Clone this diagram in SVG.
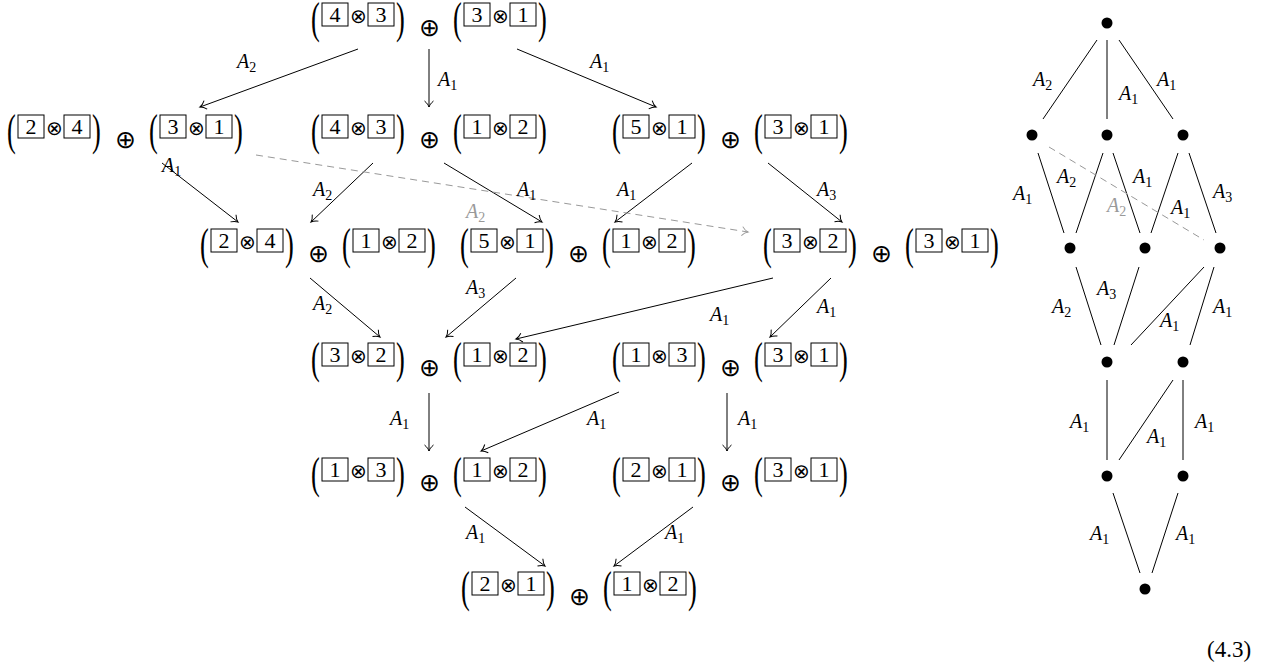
<svg xmlns="http://www.w3.org/2000/svg" width="1274" height="666" viewBox="0 0 1274 666">
<style>
.box{fill:none;stroke:#000;stroke-width:1}
.dg{font-family:"Liberation Serif","DejaVu Serif","Times New Roman",serif;font-size:22px;text-anchor:middle;fill:#000}
.par{font-family:"Liberation Serif","DejaVu Serif","Times New Roman",serif;font-size:33px;text-anchor:middle;fill:#000}
.ot{font-family:"DejaVu Sans",sans-serif;font-weight:200;font-size:20px;text-anchor:middle;fill:#000}
.op{font-family:"DejaVu Sans",sans-serif;font-weight:200;font-size:25px;text-anchor:middle;fill:#000}
.lab{font-family:"Liberation Serif","DejaVu Serif","Times New Roman",serif;font-style:italic;font-size:20px;fill:#000}
.sub{font-style:normal;font-size:14px}
.gl{fill:#999}
.ar{stroke:#000;stroke-width:1;fill:none;marker-end:url(#ah)}
.da{stroke:#999;stroke-width:1;fill:none;stroke-dasharray:7 5;marker-end:url(#ahg)}
.ln{stroke:#000;stroke-width:1;fill:none}
.dl{stroke:#999;stroke-width:1;fill:none;stroke-dasharray:7 5}
.dot{fill:#000}
.eq{font-family:"Liberation Serif","DejaVu Serif","Times New Roman",serif;font-size:23px;fill:#000}
</style>
<defs>
<marker id="ah" markerUnits="userSpaceOnUse" markerWidth="14" markerHeight="14" refX="0" refY="0" orient="auto" viewBox="-8 -7 14 14" overflow="visible">
<path d="M-6,-4.5 C-4,-2 -1.5,-0.5 0,0 C-1.5,0.5 -4,2 -6,4.5" fill="none" stroke="#000" stroke-width="1"/>
</marker>
<marker id="ahg" markerUnits="userSpaceOnUse" markerWidth="14" markerHeight="14" refX="0" refY="0" orient="auto" viewBox="-8 -7 14 14" overflow="visible">
<path d="M-6,-4.5 C-4,-2 -1.5,-0.5 0,0 C-1.5,0.5 -4,2 -6,4.5" fill="none" stroke="#999" stroke-width="1"/>
</marker>
</defs>

<g id="connectors">
<line class="ar" x1="358" y1="49" x2="200" y2="107"/>
<line class="ar" x1="429" y1="49" x2="429" y2="107"/>
<line class="ar" x1="517" y1="49" x2="656" y2="107"/>
<line class="ar" x1="162" y1="163" x2="238" y2="222"/>
<line class="ar" x1="373" y1="163" x2="311" y2="222"/>
<line class="ar" x1="444" y1="163" x2="542" y2="222"/>
<line class="ar" x1="692" y1="163" x2="615" y2="222"/>
<line class="ar" x1="768" y1="163" x2="842" y2="222"/>
<line class="da" x1="256" y1="155" x2="748" y2="232"/>
<line class="ar" x1="310" y1="278" x2="380" y2="337"/>
<line class="ar" x1="516" y1="278" x2="446" y2="337"/>
<line class="ar" x1="773" y1="278" x2="516" y2="339"/>
<line class="ar" x1="831" y1="278" x2="770" y2="337"/>
<line class="ar" x1="429" y1="393" x2="429" y2="451"/>
<line class="ar" x1="619" y1="392" x2="481" y2="451"/>
<line class="ar" x1="727" y1="393" x2="727" y2="451"/>
<line class="ar" x1="465" y1="507" x2="545" y2="566"/>
<line class="ar" x1="693" y1="507" x2="614" y2="566"/>

<text class="lab" x="237" y="68">A<tspan class="sub" dy="4">2</tspan></text>
<text class="lab" x="438" y="86">A<tspan class="sub" dy="4">1</tspan></text>
<text class="lab" x="590" y="68">A<tspan class="sub" dy="4">1</tspan></text>
<text class="lab" x="162" y="172">A<tspan class="sub" dy="4">1</tspan></text>
<text class="lab" x="313" y="196">A<tspan class="sub" dy="4">2</tspan></text>
<text class="lab" x="517" y="196">A<tspan class="sub" dy="4">1</tspan></text>
<text class="lab" x="617" y="196">A<tspan class="sub" dy="4">1</tspan></text>
<text class="lab" x="817" y="196">A<tspan class="sub" dy="4">3</tspan></text>
<text class="lab gl" x="466" y="218">A<tspan class="sub" dy="4">2</tspan></text>
<text class="lab" x="313" y="310">A<tspan class="sub" dy="4">2</tspan></text>
<text class="lab" x="466" y="294">A<tspan class="sub" dy="4">3</tspan></text>
<text class="lab" x="710" y="321">A<tspan class="sub" dy="4">1</tspan></text>
<text class="lab" x="817" y="313">A<tspan class="sub" dy="4">1</tspan></text>
<text class="lab" x="390" y="425">A<tspan class="sub" dy="4">1</tspan></text>
<text class="lab" x="587" y="425">A<tspan class="sub" dy="4">1</tspan></text>
<text class="lab" x="738" y="425">A<tspan class="sub" dy="4">1</tspan></text>
<text class="lab" x="466" y="539">A<tspan class="sub" dy="4">1</tspan></text>
<text class="lab" x="665" y="539">A<tspan class="sub" dy="4">1</tspan></text>

<line class="ln" x1="1097" y1="40" x2="1043" y2="119"/>
<line class="ln" x1="1107" y1="40" x2="1107" y2="119"/>
<line class="ln" x1="1119" y1="40" x2="1173" y2="119"/>
<line class="ln" x1="1038" y1="153" x2="1064" y2="233"/>
<line class="ln" x1="1103" y1="153" x2="1076" y2="233"/>
<line class="ln" x1="1113" y1="153" x2="1140" y2="233"/>
<line class="ln" x1="1178" y1="153" x2="1151" y2="233"/>
<line class="ln" x1="1189" y1="153" x2="1216" y2="233"/>
<line class="dl" x1="1049" y1="147" x2="1204" y2="240"/>
<line class="ln" x1="1076" y1="267" x2="1101" y2="345"/>
<line class="ln" x1="1139" y1="267" x2="1114" y2="345"/>
<line class="ln" x1="1204" y1="267" x2="1131" y2="345"/>
<line class="ln" x1="1214" y1="267" x2="1190" y2="345"/>
<line class="ln" x1="1107" y1="380" x2="1107" y2="460"/>
<line class="ln" x1="1173" y1="380" x2="1119" y2="460"/>
<line class="ln" x1="1183" y1="380" x2="1183" y2="460"/>
<line class="ln" x1="1113" y1="493" x2="1140" y2="573"/>
<line class="ln" x1="1178" y1="493" x2="1152" y2="573"/>

<text class="lab" x="1033" y="86">A<tspan class="sub" dy="4">2</tspan></text>
<text class="lab" x="1119" y="100">A<tspan class="sub" dy="4">1</tspan></text>
<text class="lab" x="1157" y="86">A<tspan class="sub" dy="4">1</tspan></text>
<text class="lab" x="1013" y="200">A<tspan class="sub" dy="4">1</tspan></text>
<text class="lab" x="1057" y="183">A<tspan class="sub" dy="4">2</tspan></text>
<text class="lab" x="1133" y="183">A<tspan class="sub" dy="4">1</tspan></text>
<text class="lab gl" x="1107" y="212">A<tspan class="sub" dy="4">2</tspan></text>
<text class="lab" x="1171" y="214">A<tspan class="sub" dy="4">1</tspan></text>
<text class="lab" x="1213" y="198">A<tspan class="sub" dy="4">3</tspan></text>
<text class="lab" x="1097" y="295">A<tspan class="sub" dy="4">3</tspan></text>
<text class="lab" x="1052" y="313">A<tspan class="sub" dy="4">2</tspan></text>
<text class="lab" x="1160" y="327">A<tspan class="sub" dy="4">1</tspan></text>
<text class="lab" x="1213" y="313">A<tspan class="sub" dy="4">1</tspan></text>
<text class="lab" x="1070" y="428">A<tspan class="sub" dy="4">1</tspan></text>
<text class="lab" x="1147" y="443">A<tspan class="sub" dy="4">1</tspan></text>
<text class="lab" x="1195" y="428">A<tspan class="sub" dy="4">1</tspan></text>
<text class="lab" x="1090" y="540">A<tspan class="sub" dy="4">1</tspan></text>
<text class="lab" x="1176" y="540">A<tspan class="sub" dy="4">1</tspan></text>
</g>

<g id="hasse">
<circle id="h0" class="dot" cx="1107" cy="23" r="5.5"/>
<circle id="h1" class="dot" cx="1032" cy="135" r="5.5"/>
<circle id="h2" class="dot" cx="1107" cy="135" r="5.5"/>
<circle id="h3" class="dot" cx="1183" cy="135" r="5.5"/>
<circle id="h4" class="dot" cx="1070" cy="248" r="5.5"/>
<circle id="h5" class="dot" cx="1145" cy="248" r="5.5"/>
<circle id="h6" class="dot" cx="1220" cy="248" r="5.5"/>
<circle id="h7" class="dot" cx="1107" cy="362" r="5.5"/>
<circle id="h8" class="dot" cx="1183" cy="362" r="5.5"/>
<circle id="h9" class="dot" cx="1107" cy="476" r="5.5"/>
<circle id="h10" class="dot" cx="1183" cy="476" r="5.5"/>
<circle id="h11" class="dot" cx="1145" cy="589" r="5.5"/>
</g>

<g id="n1" transform="translate(429,22)">
<text class="par" transform="translate(-113.5,0) scale(0.8,1.35)" y="8.2">(</text><rect class="box" x="-107" y="-19" width="26" height="23"/><text class="dg" x="-94" y="0">4</text><text class="ot" x="-71" y="1">⊗</text><rect class="box" x="-61" y="-19" width="26" height="23"/><text class="dg" x="-48" y="0">3</text><text class="par" transform="translate(-28.5,0) scale(0.8,1.35)" y="8.2">)</text>
<text class="op" x="0" y="14">⊕</text>
<text class="par" transform="translate(28.5,0) scale(0.8,1.35)" y="8.2">(</text><rect class="box" x="35" y="-19" width="26" height="23"/><text class="dg" x="48" y="0">3</text><text class="ot" x="71" y="1">⊗</text><rect class="box" x="81" y="-19" width="26" height="23"/><text class="dg" x="94" y="0">1</text><text class="par" transform="translate(113.5,0) scale(0.8,1.35)" y="8.2">)</text>
</g>

<g id="n2a" transform="translate(125,134)">
<text class="par" transform="translate(-113.5,0) scale(0.8,1.35)" y="8.2">(</text><rect class="box" x="-107" y="-19" width="26" height="23"/><text class="dg" x="-94" y="0">2</text><text class="ot" x="-71" y="1">⊗</text><rect class="box" x="-61" y="-19" width="26" height="23"/><text class="dg" x="-48" y="0">4</text><text class="par" transform="translate(-28.5,0) scale(0.8,1.35)" y="8.2">)</text>
<text class="op" x="0" y="14">⊕</text>
<text class="par" transform="translate(28.5,0) scale(0.8,1.35)" y="8.2">(</text><rect class="box" x="35" y="-19" width="26" height="23"/><text class="dg" x="48" y="0">3</text><text class="ot" x="71" y="1">⊗</text><rect class="box" x="81" y="-19" width="26" height="23"/><text class="dg" x="94" y="0">1</text><text class="par" transform="translate(113.5,0) scale(0.8,1.35)" y="8.2">)</text>
</g>

<g id="n2b" transform="translate(429,134)">
<text class="par" transform="translate(-113.5,0) scale(0.8,1.35)" y="8.2">(</text><rect class="box" x="-107" y="-19" width="26" height="23"/><text class="dg" x="-94" y="0">4</text><text class="ot" x="-71" y="1">⊗</text><rect class="box" x="-61" y="-19" width="26" height="23"/><text class="dg" x="-48" y="0">3</text><text class="par" transform="translate(-28.5,0) scale(0.8,1.35)" y="8.2">)</text>
<text class="op" x="0" y="14">⊕</text>
<text class="par" transform="translate(28.5,0) scale(0.8,1.35)" y="8.2">(</text><rect class="box" x="35" y="-19" width="26" height="23"/><text class="dg" x="48" y="0">1</text><text class="ot" x="71" y="1">⊗</text><rect class="box" x="81" y="-19" width="26" height="23"/><text class="dg" x="94" y="0">2</text><text class="par" transform="translate(113.5,0) scale(0.8,1.35)" y="8.2">)</text>
</g>

<g id="n2c" transform="translate(730,134)">
<text class="par" transform="translate(-113.5,0) scale(0.8,1.35)" y="8.2">(</text><rect class="box" x="-107" y="-19" width="26" height="23"/><text class="dg" x="-94" y="0">5</text><text class="ot" x="-71" y="1">⊗</text><rect class="box" x="-61" y="-19" width="26" height="23"/><text class="dg" x="-48" y="0">1</text><text class="par" transform="translate(-28.5,0) scale(0.8,1.35)" y="8.2">)</text>
<text class="op" x="0" y="14">⊕</text>
<text class="par" transform="translate(28.5,0) scale(0.8,1.35)" y="8.2">(</text><rect class="box" x="35" y="-19" width="26" height="23"/><text class="dg" x="48" y="0">3</text><text class="ot" x="71" y="1">⊗</text><rect class="box" x="81" y="-19" width="26" height="23"/><text class="dg" x="94" y="0">1</text><text class="par" transform="translate(113.5,0) scale(0.8,1.35)" y="8.2">)</text>
</g>

<g id="n3a" transform="translate(318,248)">
<text class="par" transform="translate(-113.5,0) scale(0.8,1.35)" y="8.2">(</text><rect class="box" x="-107" y="-19" width="26" height="23"/><text class="dg" x="-94" y="0">2</text><text class="ot" x="-71" y="1">⊗</text><rect class="box" x="-61" y="-19" width="26" height="23"/><text class="dg" x="-48" y="0">4</text><text class="par" transform="translate(-28.5,0) scale(0.8,1.35)" y="8.2">)</text>
<text class="op" x="0" y="14">⊕</text>
<text class="par" transform="translate(28.5,0) scale(0.8,1.35)" y="8.2">(</text><rect class="box" x="35" y="-19" width="26" height="23"/><text class="dg" x="48" y="0">1</text><text class="ot" x="71" y="1">⊗</text><rect class="box" x="81" y="-19" width="26" height="23"/><text class="dg" x="94" y="0">2</text><text class="par" transform="translate(113.5,0) scale(0.8,1.35)" y="8.2">)</text>
</g>

<g id="n3b" transform="translate(578,248)">
<text class="par" transform="translate(-113.5,0) scale(0.8,1.35)" y="8.2">(</text><rect class="box" x="-107" y="-19" width="26" height="23"/><text class="dg" x="-94" y="0">5</text><text class="ot" x="-71" y="1">⊗</text><rect class="box" x="-61" y="-19" width="26" height="23"/><text class="dg" x="-48" y="0">1</text><text class="par" transform="translate(-28.5,0) scale(0.8,1.35)" y="8.2">)</text>
<text class="op" x="0" y="14">⊕</text>
<text class="par" transform="translate(28.5,0) scale(0.8,1.35)" y="8.2">(</text><rect class="box" x="35" y="-19" width="26" height="23"/><text class="dg" x="48" y="0">1</text><text class="ot" x="71" y="1">⊗</text><rect class="box" x="81" y="-19" width="26" height="23"/><text class="dg" x="94" y="0">2</text><text class="par" transform="translate(113.5,0) scale(0.8,1.35)" y="8.2">)</text>
</g>

<g id="n3c" transform="translate(881,248)">
<text class="par" transform="translate(-113.5,0) scale(0.8,1.35)" y="8.2">(</text><rect class="box" x="-107" y="-19" width="26" height="23"/><text class="dg" x="-94" y="0">3</text><text class="ot" x="-71" y="1">⊗</text><rect class="box" x="-61" y="-19" width="26" height="23"/><text class="dg" x="-48" y="0">2</text><text class="par" transform="translate(-28.5,0) scale(0.8,1.35)" y="8.2">)</text>
<text class="op" x="0" y="14">⊕</text>
<text class="par" transform="translate(28.5,0) scale(0.8,1.35)" y="8.2">(</text><rect class="box" x="35" y="-19" width="26" height="23"/><text class="dg" x="48" y="0">3</text><text class="ot" x="71" y="1">⊗</text><rect class="box" x="81" y="-19" width="26" height="23"/><text class="dg" x="94" y="0">1</text><text class="par" transform="translate(113.5,0) scale(0.8,1.35)" y="8.2">)</text>
</g>

<g id="n4a" transform="translate(429,362)">
<text class="par" transform="translate(-113.5,0) scale(0.8,1.35)" y="8.2">(</text><rect class="box" x="-107" y="-19" width="26" height="23"/><text class="dg" x="-94" y="0">3</text><text class="ot" x="-71" y="1">⊗</text><rect class="box" x="-61" y="-19" width="26" height="23"/><text class="dg" x="-48" y="0">2</text><text class="par" transform="translate(-28.5,0) scale(0.8,1.35)" y="8.2">)</text>
<text class="op" x="0" y="14">⊕</text>
<text class="par" transform="translate(28.5,0) scale(0.8,1.35)" y="8.2">(</text><rect class="box" x="35" y="-19" width="26" height="23"/><text class="dg" x="48" y="0">1</text><text class="ot" x="71" y="1">⊗</text><rect class="box" x="81" y="-19" width="26" height="23"/><text class="dg" x="94" y="0">2</text><text class="par" transform="translate(113.5,0) scale(0.8,1.35)" y="8.2">)</text>
</g>

<g id="n4b" transform="translate(730,362)">
<text class="par" transform="translate(-113.5,0) scale(0.8,1.35)" y="8.2">(</text><rect class="box" x="-107" y="-19" width="26" height="23"/><text class="dg" x="-94" y="0">1</text><text class="ot" x="-71" y="1">⊗</text><rect class="box" x="-61" y="-19" width="26" height="23"/><text class="dg" x="-48" y="0">3</text><text class="par" transform="translate(-28.5,0) scale(0.8,1.35)" y="8.2">)</text>
<text class="op" x="0" y="14">⊕</text>
<text class="par" transform="translate(28.5,0) scale(0.8,1.35)" y="8.2">(</text><rect class="box" x="35" y="-19" width="26" height="23"/><text class="dg" x="48" y="0">3</text><text class="ot" x="71" y="1">⊗</text><rect class="box" x="81" y="-19" width="26" height="23"/><text class="dg" x="94" y="0">1</text><text class="par" transform="translate(113.5,0) scale(0.8,1.35)" y="8.2">)</text>
</g>

<g id="n5a" transform="translate(429,477)">
<text class="par" transform="translate(-113.5,0) scale(0.8,1.35)" y="8.2">(</text><rect class="box" x="-107" y="-19" width="26" height="23"/><text class="dg" x="-94" y="0">1</text><text class="ot" x="-71" y="1">⊗</text><rect class="box" x="-61" y="-19" width="26" height="23"/><text class="dg" x="-48" y="0">3</text><text class="par" transform="translate(-28.5,0) scale(0.8,1.35)" y="8.2">)</text>
<text class="op" x="0" y="14">⊕</text>
<text class="par" transform="translate(28.5,0) scale(0.8,1.35)" y="8.2">(</text><rect class="box" x="35" y="-19" width="26" height="23"/><text class="dg" x="48" y="0">1</text><text class="ot" x="71" y="1">⊗</text><rect class="box" x="81" y="-19" width="26" height="23"/><text class="dg" x="94" y="0">2</text><text class="par" transform="translate(113.5,0) scale(0.8,1.35)" y="8.2">)</text>
</g>

<g id="n5b" transform="translate(730,477)">
<text class="par" transform="translate(-113.5,0) scale(0.8,1.35)" y="8.2">(</text><rect class="box" x="-107" y="-19" width="26" height="23"/><text class="dg" x="-94" y="0">2</text><text class="ot" x="-71" y="1">⊗</text><rect class="box" x="-61" y="-19" width="26" height="23"/><text class="dg" x="-48" y="0">1</text><text class="par" transform="translate(-28.5,0) scale(0.8,1.35)" y="8.2">)</text>
<text class="op" x="0" y="14">⊕</text>
<text class="par" transform="translate(28.5,0) scale(0.8,1.35)" y="8.2">(</text><rect class="box" x="35" y="-19" width="26" height="23"/><text class="dg" x="48" y="0">3</text><text class="ot" x="71" y="1">⊗</text><rect class="box" x="81" y="-19" width="26" height="23"/><text class="dg" x="94" y="0">1</text><text class="par" transform="translate(113.5,0) scale(0.8,1.35)" y="8.2">)</text>
</g>

<g id="n6" transform="translate(579,591)">
<text class="par" transform="translate(-113.5,0) scale(0.8,1.35)" y="8.2">(</text><rect class="box" x="-107" y="-19" width="26" height="23"/><text class="dg" x="-94" y="0">2</text><text class="ot" x="-71" y="1">⊗</text><rect class="box" x="-61" y="-19" width="26" height="23"/><text class="dg" x="-48" y="0">1</text><text class="par" transform="translate(-28.5,0) scale(0.8,1.35)" y="8.2">)</text>
<text class="op" x="0" y="14">⊕</text>
<text class="par" transform="translate(28.5,0) scale(0.8,1.35)" y="8.2">(</text><rect class="box" x="35" y="-19" width="26" height="23"/><text class="dg" x="48" y="0">1</text><text class="ot" x="71" y="1">⊗</text><rect class="box" x="81" y="-19" width="26" height="23"/><text class="dg" x="94" y="0">2</text><text class="par" transform="translate(113.5,0) scale(0.8,1.35)" y="8.2">)</text>
</g>

<text id="eqnum" class="eq" x="1207" y="657">(4.3)</text>
</svg>
